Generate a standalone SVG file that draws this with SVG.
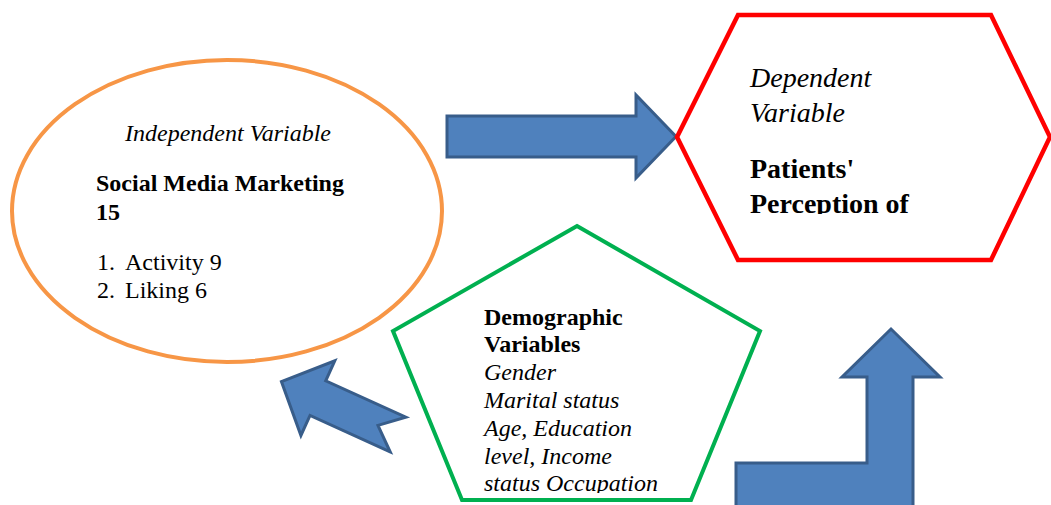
<svg xmlns="http://www.w3.org/2000/svg" width="1051" height="505" viewBox="0 0 1051 505">
  <style>
    .serif { font-family: "Liberation Serif", "Times New Roman", serif; fill: #000; }
    .it { font-style: italic; }
    .b { font-weight: bold; }
    .arrow { fill: #4F81BD; stroke: #385D8A; stroke-width: 3; stroke-linejoin: miter; }
  </style>
  <defs>
    <clipPath id="hexText"><rect x="700" y="40" width="340" height="174"/></clipPath>
    <clipPath id="pentText"><rect x="420" y="290" width="320" height="203"/></clipPath>
  </defs>
  <rect width="1051" height="505" fill="#fff"/>

  <!-- Connectors -->
  <g id="connectors">
    <!-- independent -> dependent -->
    <polygon class="arrow" points="447,116 636,116 636,95 676,136.5 636,178 636,157 447,157"/>
    <!-- demographic -> independent (notched arrow) -->
    <polygon class="arrow" transform="translate(398,434.5) rotate(204.4)" points="0,-19 88,-19 88,-41 128,0 88,41 88,19 0,19 22,0"/>
    <!-- demographic -> dependent (bent-up arrow) -->
    <polygon class="arrow" points="736,463 867,463 867,377 842,377 891,329 940,377 913,377 913,520 736,520"/>
  </g>

  <!-- Independent variable -->
  <g id="independent">
    <ellipse cx="227" cy="211" rx="215" ry="151" fill="#fff" stroke="#F79646" stroke-width="4"/>
    <text class="serif it" x="228" y="141" font-size="24" text-anchor="middle">Independent Variable</text>
    <text class="serif b" x="96" y="191" font-size="24">Social Media Marketing</text>
    <text class="serif b" x="96" y="220" font-size="24">15</text>
    <text class="serif" x="97" y="270" font-size="24">1.</text>
    <text class="serif" x="125" y="270" font-size="24">Activity 9</text>
    <text class="serif" x="97" y="298" font-size="24">2.</text>
    <text class="serif" x="125" y="298" font-size="24">Liking 6</text>
  </g>

  <!-- Dependent variable -->
  <g id="dependent">
    <polygon points="738,15 991,15 1050,137 991,260 738,260 677,137" fill="#fff" stroke="#FF0000" stroke-width="4.5"/>
    <g clip-path="url(#hexText)">
      <text class="serif it" x="750" y="87" font-size="28">Dependent</text>
      <text class="serif it" x="750" y="122" font-size="28">Variable</text>
      <text class="serif b" x="750" y="178" font-size="28">Patients'</text>
      <text class="serif b" x="750" y="213" font-size="28">Perception of</text>
    </g>
  </g>

  <!-- Demographic variables -->
  <g id="demographic">
    <polygon points="577,226 760,331 691,500 462,500 393,331" fill="#fff" stroke="#00B050" stroke-width="4"/>
    <g clip-path="url(#pentText)">
      <text class="serif b" x="484" y="325" font-size="24">Demographic</text>
      <text class="serif b" x="484" y="352" font-size="24">Variables</text>
      <text class="serif it" x="484" y="380" font-size="24">Gender</text>
      <text class="serif it" x="484" y="408" font-size="24">Marital status</text>
      <text class="serif it" x="484" y="436" font-size="24">Age, Education</text>
      <text class="serif it" x="484" y="464" font-size="24">level, Income</text>
      <text class="serif it" x="484" y="491" font-size="24">status Occupation</text>
    </g>
  </g>
</svg>
